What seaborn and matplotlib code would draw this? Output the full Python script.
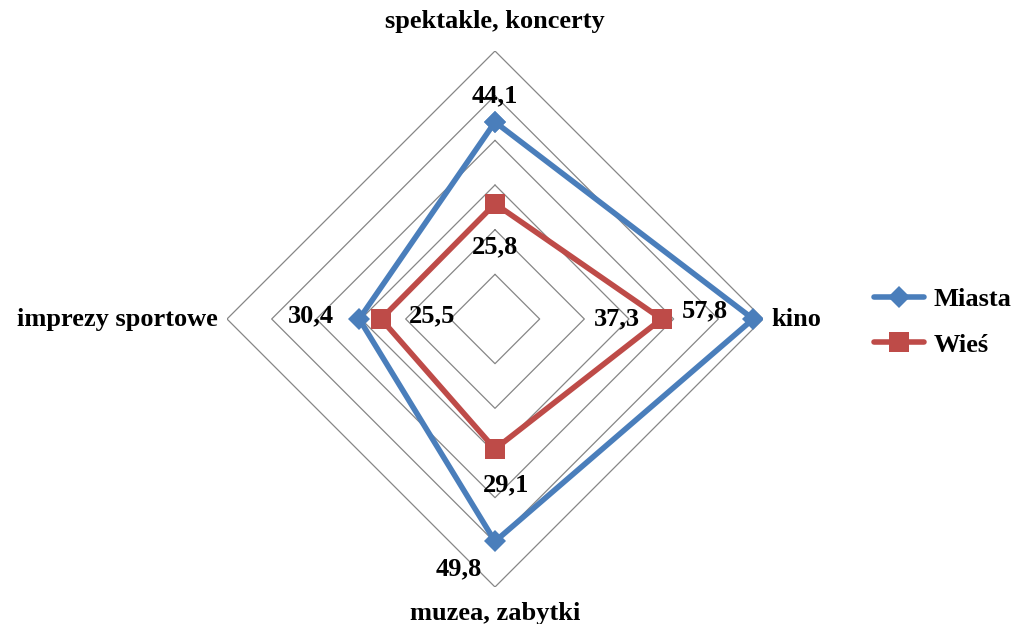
import numpy as np
import pandas as pd
import seaborn as sns
import matplotlib.pyplot as plt

# dane
kategorie = ['spektakle, koncerty', 'kino', 'muzea, zabytki', 'imprezy sportowe']
miasta = [44.1, 57.8, 49.8, 30.4]
wies = [25.8, 37.3, 29.1, 25.5]
etykiety_miasta = ['44,1', '57,8', '49,8', '30,4']
etykiety_wies = ['25,8', '37,3', '29,1', '25,5']
pierscienie = [10, 20, 30, 40, 50, 60]

sns.set_style('white')
plt.rcParams['font.family'] = ['Liberation Serif', 'DejaVu Serif']
plt.rcParams['font.weight'] = 'bold'
plt.rcParams['text.color'] = 'black'

katy = np.linspace(0, 2 * np.pi, len(kategorie) + 1)

df = pd.concat([
    pd.DataFrame({'kat': katy, 'wartosc': miasta + miasta[:1], 'seria': 'Miasta'}),
    pd.DataFrame({'kat': katy, 'wartosc': wies + wies[:1], 'seria': 'Wieś'}),
])

fig = plt.figure(figsize=(10.14, 6.24), dpi=100)
ax = fig.add_axes([227 / 1014, 37 / 624, 536 / 1014, 536 / 624], projection='polar')
ax.set_theta_zero_location('N')
ax.set_theta_direction(-1)
ax.set_ylim(0, 60)
ax.grid(False)
ax.set_xticks([])
ax.set_yticks([])
ax.spines['polar'].set_visible(False)

# siatka w kształcie rombów
for r in pierscienie:
    ax.plot(katy, [r] * len(katy), color='#868686', lw=0.9, zorder=1)

sns.lineplot(data=df[df.seria == 'Miasta'], x='kat', y='wartosc', ax=ax, color='#4A7EBB',
             lw=4, marker='D', markersize=11, markeredgewidth=0, label='Miasta', zorder=3)
sns.lineplot(data=df[df.seria == 'Wieś'], x='kat', y='wartosc', ax=ax, color='#BE4B48',
             lw=4, marker='s', markersize=14, markeredgewidth=0, label='Wieś', zorder=4)
ax.set_xlabel('')
ax.set_ylabel('')
ax.set_ylim(0, 60)

fs = 19
off_miasta = [(0, 19), (-35, 6), (-26, -20), (-35, 2)]
off_wies = [(0, -31), (-32, 0), (8, -26), (37, 2)]
for k, v, t, o in zip(katy, miasta, etykiety_miasta, off_miasta):
    ax.annotate(t, (k, v), xytext=o, textcoords='offset points', ha='center', va='center',
                fontsize=fs, fontweight='bold')
for k, v, t, o in zip(katy, wies, etykiety_wies, off_wies):
    ax.annotate(t, (k, v), xytext=o, textcoords='offset points', ha='center', va='center',
                fontsize=fs, fontweight='bold')

# nazwy kategorii
pozycje = [((0, 21), 'center'), ((6, 0), 'left'), ((0, -19), 'center'), ((-7, 0), 'right')]
for k, nazwa, (o, ha) in zip(katy, kategorie, pozycje):
    ax.annotate(nazwa, (k, 60), xytext=o, textcoords='offset points', ha=ha, va='center',
                fontsize=fs, fontweight='bold')

h, l = ax.get_legend_handles_labels()
ax.get_legend().remove()
fig.legend(h, l, loc='center left', bbox_to_anchor=(874 / 1014, 1 - 322 / 624), frameon=False,
           prop={'size': fs, 'weight': 'bold'}, handlelength=1.9, handletextpad=0.35,
           labelspacing=0.85, borderpad=0, borderaxespad=0)

fig.savefig('out.png', dpi=100)
